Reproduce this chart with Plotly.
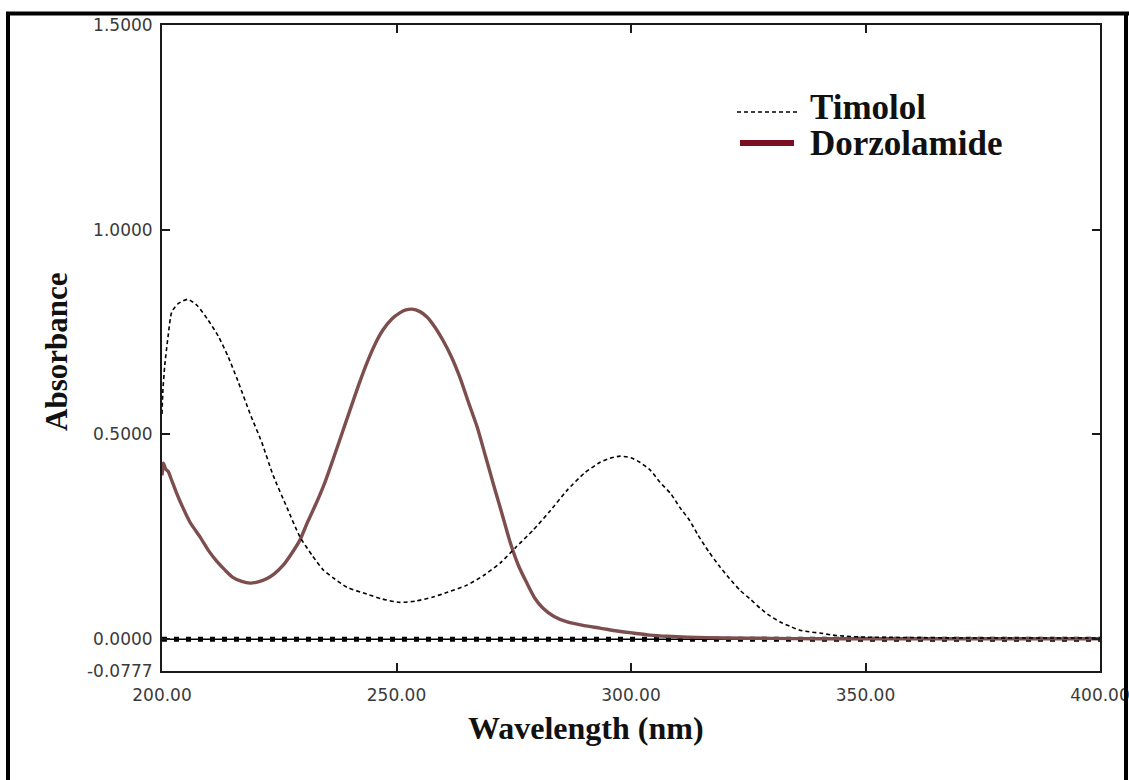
import plotly.graph_objects as go

# ---------------- data ----------------
timolol_wl = [200, 200.2, 200.6, 201.3, 202.1, 203.5, 205.5, 207.5, 209.8, 212, 214.1, 216.2,
              218.8, 221.3, 223.7, 226.7, 229.4, 232, 234.3, 236.5, 239.4, 243.7, 247, 250.7,
              254, 257.8, 261, 265, 268.5, 272.1, 275.5, 279.1, 282.5, 286.4, 290, 293.4,
              295.5, 297.7, 300, 301.9, 304.1, 306.2, 308.5, 310.4, 312.5, 314.3, 316.5, 319,
              321, 323.2, 325.5, 327.5, 329.5, 331.8, 334, 336, 338, 340.3, 343, 346.1, 350,
              360, 370, 380, 390, 400]
timolol_abs = [0.55, 0.61, 0.67, 0.74, 0.80, 0.82, 0.83, 0.815, 0.78, 0.74, 0.69, 0.63,
               0.55, 0.48, 0.40, 0.32, 0.25, 0.205, 0.17, 0.15, 0.127, 0.11, 0.098, 0.09,
               0.093, 0.103, 0.115, 0.132, 0.155, 0.186, 0.225, 0.266, 0.31, 0.364, 0.405, 0.432,
               0.442, 0.447, 0.443, 0.432, 0.413, 0.383, 0.355, 0.322, 0.29, 0.254, 0.215, 0.176,
               0.148, 0.12, 0.097, 0.076, 0.058, 0.042, 0.031, 0.022, 0.018, 0.015, 0.010, 0.007, 0.005,
               0.004, 0.003, 0.003, 0.003, 0.003]

dorzo_wl = [200, 200.3, 200.8, 201.3, 202, 203, 204.5, 206, 208.1, 210, 211.7, 213.5, 215.1,
            217, 218.8, 220.5, 222.4, 224, 225.8, 227.5, 229.4, 231, 233, 234.8, 236.5, 238.3,
            240.1, 241.9, 243.7, 245.4, 247.1, 249, 250.7, 252, 253.3, 255, 256.5, 258.2, 259.9,
            261.7, 263.5, 265.3, 267.2, 268.9, 270.6, 272.4, 274.2, 276, 277.8, 279.5, 281.2,
            283.5, 286.4, 290, 293.4, 297, 300.4, 304, 307.7, 312, 320, 330, 340, 350, 360, 380, 400]
dorzo_abs = [0.40, 0.43, 0.415, 0.41, 0.39, 0.36, 0.32, 0.285, 0.25, 0.215, 0.19, 0.168, 0.151,
             0.141, 0.137, 0.14, 0.148, 0.16, 0.18, 0.207, 0.242, 0.285, 0.335, 0.385, 0.44, 0.50,
             0.56, 0.62, 0.675, 0.72, 0.755, 0.782, 0.797, 0.804, 0.806, 0.80, 0.787, 0.762, 0.73,
             0.69, 0.64, 0.58, 0.518, 0.45, 0.381, 0.31, 0.238, 0.18, 0.137, 0.10, 0.076,
             0.056, 0.042, 0.033, 0.027, 0.02, 0.015, 0.01, 0.007, 0.005, 0.003, 0.002, 0.001,
             0.001, 0.001, 0.001, 0.001]

baseline_wl = [200, 400]
baseline_abs = [0, 0]

x_tickvals = [200, 250, 300, 350, 400]
x_ticktext = ["200.00", "250.00", "300.00", "350.00", "400.00"]
y_tickvals = [-0.0777, 0.0, 0.5, 1.0, 1.5]
y_ticktext = ["-0.0777", "0.0000", "0.5000", "1.0000", "1.5000"]

series_names = ["Timolol", "Dorzolamide"]

# ---------------- styles ----------------
DORZO_COLOR = "#7d4e4e"
LEGEND_DORZO = "#7a0f22"
SERIF = "Liberation Serif, Times New Roman, serif"
SANS = "DejaVu Sans, Verdana, sans-serif"

W, H = 1129, 780

def px(xp):
    return xp / W

def py(yp):
    return 1 - yp / H

fig = go.Figure()

fig.add_trace(go.Scatter(x=baseline_wl, y=baseline_abs, mode="lines",
                         line=dict(color="black", width=1.5), showlegend=False, hoverinfo="skip"))
fig.add_trace(go.Scatter(x=baseline_wl, y=baseline_abs, mode="lines",
                         line=dict(color="black", width=5, dash="5px,7px"),
                         showlegend=False, hoverinfo="skip"))
fig.add_trace(go.Scatter(x=dorzo_wl, y=dorzo_abs, mode="lines", name=series_names[1],
                         line=dict(color=DORZO_COLOR, width=3.4, shape="spline", smoothing=0.6),
                         showlegend=False))
fig.add_trace(go.Scatter(x=timolol_wl, y=timolol_abs, mode="lines", name=series_names[0],
                         line=dict(color="black", width=1.6, dash="4px,3px", shape="spline", smoothing=0.6),
                         showlegend=False))

axis_common = dict(showgrid=False, zeroline=False, showline=True, linecolor="#1a1a1a",
                   linewidth=2, mirror="ticks", ticks="inside", ticklen=8, tickwidth=2,
                   tickcolor="#1a1a1a", automargin=False, ticklabeloverflow="allow")

fig.update_xaxes(range=[200, 400], tickmode="array", tickvals=x_tickvals, ticktext=x_ticktext,
                 domain=[px(162), px(1100)], ticklabelstandoff=8,
                 tickfont=dict(family=SANS, size=17, color="#3a3a3a"), **axis_common)
fig.update_yaxes(range=[-0.0777, 1.5], tickmode="array", tickvals=y_tickvals, ticktext=y_ticktext,
                 domain=[py(671), py(25)], ticklabelstandoff=4,
                 tickfont=dict(family=SANS, size=17, color="#3a3a3a"), **axis_common)

annotations = [
    dict(text="<b>Wavelength (nm)</b>", x=px(586), y=py(728), xref="paper", yref="paper",
         xanchor="center", yanchor="middle", showarrow=False,
         font=dict(family=SERIF, size=32, color="#111111")),
    dict(text="<b>Absorbance</b>", x=px(57), y=py(352), xref="paper", yref="paper",
         xanchor="center", yanchor="middle", showarrow=False, textangle=-90,
         font=dict(family=SERIF, size=31, color="#111111")),
    dict(text="<b>" + series_names[0] + "</b>", x=px(808), y=py(108), xref="paper", yref="paper",
         xanchor="left", yanchor="middle", showarrow=False,
         font=dict(family=SERIF, size=35, color="#111111")),
    dict(text="<b>" + series_names[1] + "</b>", x=px(808), y=py(143), xref="paper", yref="paper",
         xanchor="left", yanchor="middle", showarrow=False,
         font=dict(family=SERIF, size=35, color="#111111")),
]

shapes = [
    # legend samples
    dict(type="line", xref="paper", yref="paper", x0=px(737), x1=px(797), y0=py(112), y1=py(112),
         line=dict(color="black", width=1.6, dash="4px,3px")),
    dict(type="line", xref="paper", yref="paper", x0=px(740), x1=px(794), y0=py(143), y1=py(143),
         line=dict(color=LEGEND_DORZO, width=6)),
    # outer frame (left, top, right)
    dict(type="line", xref="paper", yref="paper", x0=px(8), x1=px(8), y0=py(12), y1=py(790),
         line=dict(color="black", width=4)),
    dict(type="line", xref="paper", yref="paper", x0=px(6), x1=px(1129), y0=py(13.5), y1=py(13.5),
         line=dict(color="black", width=4)),
    dict(type="line", xref="paper", yref="paper", x0=px(1126), x1=px(1126), y0=py(12), y1=py(790),
         line=dict(color="black", width=4)),
]

fig.update_layout(width=W, height=H, margin=dict(l=0, r=0, t=0, b=0, pad=0),
                  paper_bgcolor="white", plot_bgcolor="white",
                  annotations=annotations, shapes=shapes, showlegend=False)

fig.write_html("out.html")
